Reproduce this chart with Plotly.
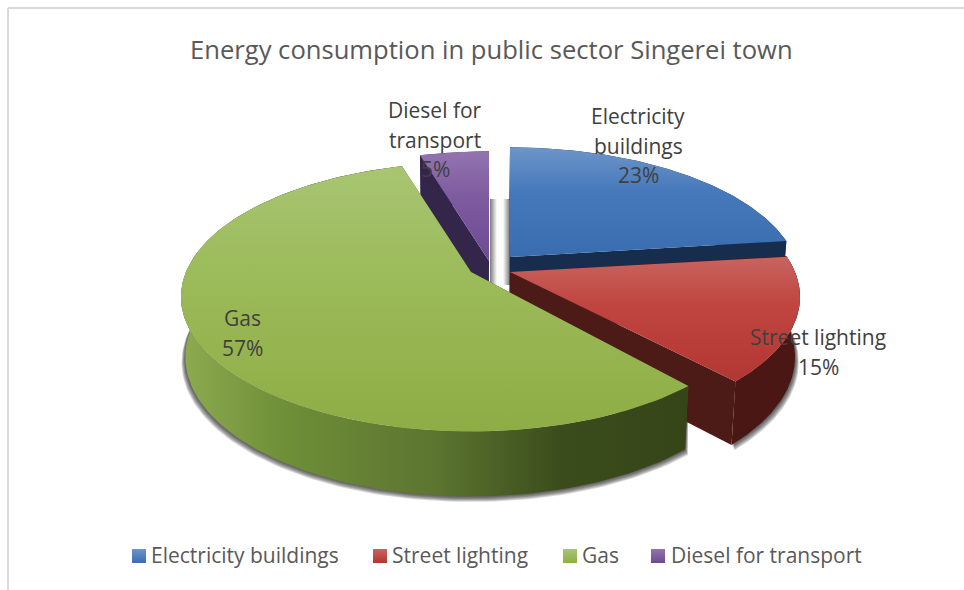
import math
import plotly.graph_objects as go

# ---------- data ----------
categories = ["Electricity buildings", "Street lighting", "Gas", "Diesel for transport"]
shares = [23.0, 15.0, 57.4, 4.6]
label_lines = [["Electricity", "buildings"], ["Street lighting"], ["Gas"], ["Diesel for", "transport"]]
chart_title = "Energy consumption in public sector Singerei town"

# ---------- geometry of the tilted, extruded pie (pixel space) ----------
ORIGINS = [(510, 257), (510, 272), (471, 272), (489, 261)]
F, G, K = 285.0, 130.0, 0.185     # horizontal scale, vertical scale, perspective
DEPTH_MID, DEPTH_TILT = 59.0, 6.0
VANISH_X, SHRINK = 470.0, 0.985
START_NUDGE_DEG = [0, 0, -2.2, 0]  # perspective correction of the exploded slice edge

TOP_GRAD = [["#6d95c9", "#4679bb", "#3a6cb0"], ["#c9645f", "#c0443f", "#b23632"],
            ["#a8c572", "#9cbb5a", "#8fad45"], ["#9374b0", "#7f5ba0", "#6c4a92"]]
CUT_COL = ["#162d4e", "#4c1b18", "#3a4a1a", "#33264a"]
SIDE_GRAD = [
    [[0, "#162d4e"], [1, "#162d4e"]],
    [[0, "#4a1714"], [1, "#4a1714"]],
    [[0, "#8dab50"], [0.2, "#6f8f38"], [0.5, "#5c7530"], [0.75, "#3a4c1c"], [1, "#364518"]],
    [[0, "#33264a"], [1, "#33264a"]],
]
LEGEND_X = [139, 380, 570, 658]
LEGEND_TEXT_X = [151, 392, 582, 671]
LEGEND_Y = 556
LABEL_POS = [(638, 116), (818, 337), (242, 318), (435, 110)]
LINE_STEP = 29.5
TEXT_FONT = "Open Sans"


def top_pt(theta, org):
    X, Y = math.cos(theta), math.sin(theta)
    d = 1 + K * Y
    return org[0] + F * X / d, org[1] - G * Y / d, d


def bottom_pt(theta, org):
    x, y, _ = top_pt(theta, org)
    return VANISH_X + (x - VANISH_X) * SHRINK, y + DEPTH_MID - DEPTH_TILT * math.sin(theta)


def apex_bottom(org):
    return VANISH_X + (org[0] - VANISH_X) * SHRINK, org[1] + DEPTH_MID


def arc(a0, a1, n=160):
    return [a0 + (a1 - a0) * i / n for i in range(n + 1)]


fig = go.Figure()


def poly(xs, ys, **kw):
    fig.add_trace(go.Scatter(x=list(xs) + [xs[0]], y=list(ys) + [ys[0]], mode="lines", fill="toself",
                             line=dict(width=0), hoverinfo="skip", showlegend=False, **kw))


total = sum(shares)
angles = []
start = math.pi / 2
for i, v in enumerate(shares):
    end = start - 2 * math.pi * v / total
    angles.append((start + math.radians(START_NUDGE_DEG[i]), end))
    start = end

# shadows in the gap between the slices
for x0, x1, cs in [(490, 497, [[0, "#7a7a7a"], [1, "#ffffff"]]), (503, 510, [[0, "#ffffff"], [1, "#7a7a7a"]])]:
    poly([x0, x1, x1, x0], [199, 199, 285, 285], fillgradient=dict(type="horizontal", start=x0, stop=x1, colorscale=cs))

# soft drop shadow below the solid slices
for idx in (1, 2):
    a0, a1 = angles[idx]
    org = ORIGINS[idx]
    pts = arc(a0, a1)
    xb = [bottom_pt(t, org)[0] for t in pts]
    yb = [bottom_pt(t, org)[1] for t in pts]
    xt = [top_pt(t, org)[0] for t in pts]
    yt = [top_pt(t, org)[1] for t in pts]
    for i in range(1, 7):
        s = 1 + 0.0022 * i
        poly([org[0] + (x - org[0]) * s for x in xb] + xt[::-1],
             [y + i * 0.9 for y in yb] + yt[::-1], fillcolor="rgba(40,40,40,0.18)")

# painter's order: back slices first
for idx in (3, 0, 1, 2):
    a0, a1 = angles[idx]
    org = ORIGINS[idx]
    pts = arc(a0, a1)
    ab = apex_bottom(org)
    # cut faces
    for t in (a0, a1):
        tx, ty, _ = top_pt(t, org)
        bx, by = bottom_pt(t, org)
        poly([org[0], tx, bx, ab[0]], [org[1], ty, by, ab[1]], fillcolor=CUT_COL[idx])
    # outer wall
    xt = [top_pt(t, org)[0] for t in pts]
    yt = [top_pt(t, org)[1] for t in pts]
    xb = [bottom_pt(t, org)[0] for t in pts]
    yb = [bottom_pt(t, org)[1] for t in pts]
    poly(xt + xb[::-1], yt + yb[::-1],
         fillgradient=dict(type="horizontal", start=min(xb + xt), stop=max(xb + xt), colorscale=SIDE_GRAD[idx]))
    # top face
    ymin, ymax = min(yt + [org[1]]), max(yt + [org[1]])
    poly([org[0]] + xt, [org[1]] + yt,
         fillgradient=dict(type="vertical", start=ymin, stop=ymax,
                           colorscale=[[0, TOP_GRAD[idx][0]], [0.4, TOP_GRAD[idx][1]], [1, TOP_GRAD[idx][2]]]))

# legend row: gradient squares from the library, names as text
annotations = []
for i, c in enumerate(categories):
    fig.add_trace(go.Scatter(
        x=[LEGEND_X[i]], y=[LEGEND_Y], mode="markers", name=c,
        marker=dict(symbol="square", size=14, color=TOP_GRAD[i][0],
                    gradient=dict(type="vertical", color=TOP_GRAD[i][2]), line=dict(width=0)),
        showlegend=False, hoverinfo="skip"))
    annotations.append(dict(x=LEGEND_TEXT_X[i], y=LEGEND_Y - 1, text=c, showarrow=False, xanchor="left", yanchor="middle",
                            xshift=-2, font=dict(family=TEXT_FONT, size=21, color="#595959")))

# data labels, one annotation per line
for i, lines in enumerate(label_lines):
    x, y = LABEL_POS[i]
    for j, t in enumerate(lines + [f"{round(shares[i] / total * 100)}%"]):
        annotations.append(dict(x=x, y=y + j * LINE_STEP, text=t, showarrow=False, xanchor="center", yanchor="middle",
                                font=dict(family=TEXT_FONT, size=21, color="#404040")))

annotations.append(dict(x=491, y=49, text=chart_title, showarrow=False, xanchor="center", yanchor="middle",
                        font=dict(family=TEXT_FONT, size=25.6, color="#595959")))

fig.update_layout(
    width=964, height=590, margin=dict(l=0, r=0, t=0, b=0),
    paper_bgcolor="white", plot_bgcolor="white", showlegend=False,
    xaxis=dict(range=[0, 964], visible=False, fixedrange=True),
    yaxis=dict(range=[590, 0], visible=False, fixedrange=True),
    annotations=annotations,
    shapes=[
        dict(type="line", xref="x", yref="y", x0=8, x1=8, y0=8, y1=590, line=dict(color="#d9d9d9", width=2)),
        dict(type="line", xref="x", yref="y", x0=8, x1=964, y0=8, y1=8, line=dict(color="#d9d9d9", width=2)),
    ],
)

fig.write_html("out.html", config={"displayModeBar": False},
               post_script="document.body.style.margin='0';document.body.style.overflow='hidden';")
